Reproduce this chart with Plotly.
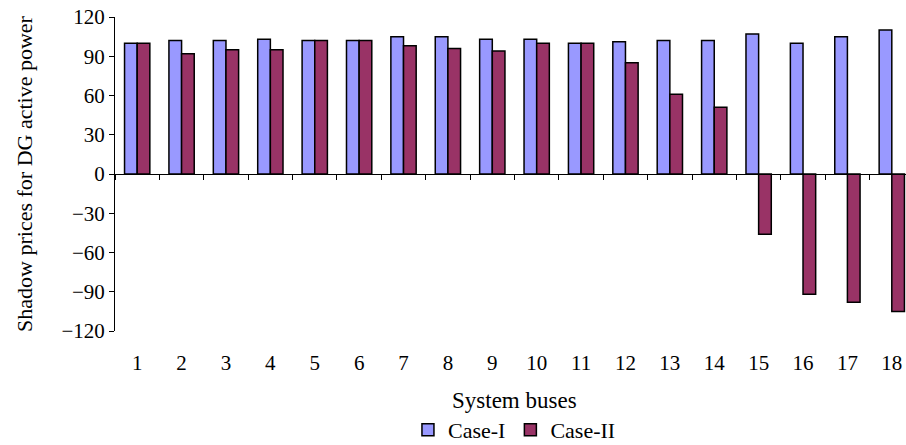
import plotly.graph_objects as go

buses = [str(i) for i in range(1, 19)]
case_i = [100, 102, 102, 103, 102, 102, 105, 105, 103, 103, 100, 101, 102, 102, 107, 100, 105, 110]
case_ii = [100, 92, 95, 95, 102, 102, 98, 96, 94, 100, 100, 85, 61, 51, -46, -92, -98, -105]

FONT = "Liberation Serif"

fig = go.Figure()
fig.add_trace(go.Bar(x=buses, y=case_i, name="Case-I",
                     marker=dict(color="#9999FF", line=dict(color="black", width=1.5))))
fig.add_trace(go.Bar(x=buses, y=case_ii, name="Case-II",
                     marker=dict(color="#993366", line=dict(color="black", width=1.5))))

fig.update_layout(
    width=906, height=445,
    margin=dict(l=115, r=0, t=17, b=114, autoexpand=False),
    paper_bgcolor="white", plot_bgcolor="white",
    barmode="group", bargap=0.43, bargroupgap=0,
    font=dict(family=FONT, size=21, color="black"),
    showlegend=True,
    legend=dict(orientation="h", x=0.505, xanchor="center", y=-0.315, yanchor="middle",
                font=dict(family=FONT, size=22), itemwidth=30, tracegroupgap=0),
    xaxis=dict(type="category", range=[-0.5, 17.32], anchor="free", position=0.5,
               automargin=False,
               showline=True, linecolor="black", linewidth=1,
               ticks="outside", tickson="boundaries", ticklen=5, tickcolor="black",
               ticklabelstandoff=170, showgrid=False, zeroline=False,
               tickfont=dict(family=FONT, size=21)),
    yaxis=dict(range=[-120, 120], dtick=30, tickmode="linear", tick0=0,
               automargin=False,
               showline=True, linecolor="black", linewidth=1,
               ticks="outside", ticklen=5, tickcolor="black",
               showgrid=False, zeroline=False,
               tickfont=dict(family=FONT, size=21),
               title=dict(text="Shadow prices for DG active power", standoff=22,
                          font=dict(family=FONT, size=22))),
    annotations=[dict(text="System buses", xref="paper", yref="paper", x=0.505, y=-0.22,
                      xanchor="center", yanchor="middle", showarrow=False,
                      font=dict(family=FONT, size=23))],
)

fig.write_html("out.html")
